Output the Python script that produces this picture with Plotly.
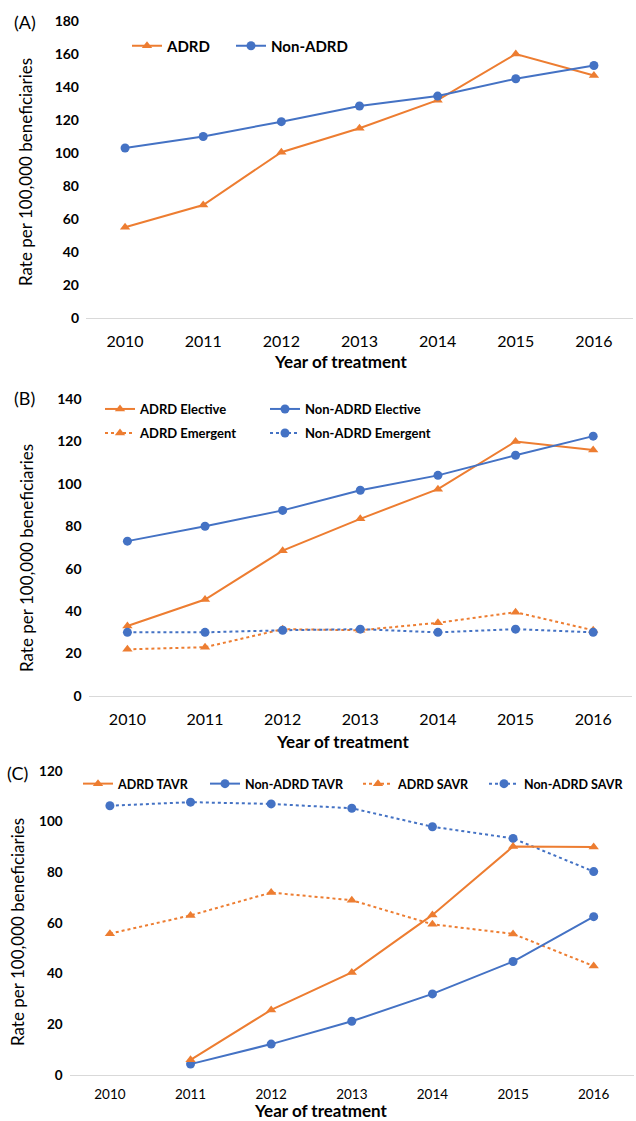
import plotly.graph_objects as go

W, H = 636, 1121
ORANGE = "#ED7D31"
BLUE = "#4472C4"
FONT = "Lato"

years = [2010, 2011, 2012, 2013, 2014, 2015, 2016]
years_tavr = [2011, 2012, 2013, 2014, 2015, 2016]

# Panel A
a_adrd = [55, 68.5, 100.5, 115, 132, 160, 147]
a_non = [103, 110, 119, 128.5, 134.5, 145, 153]

# Panel B
b_adrd_elective = [33, 45.5, 68.5, 83.5, 97.5, 120, 116]
b_non_elective = [73, 80, 87.5, 97, 104, 113.5, 122.5]
b_adrd_emergent = [22, 23, 31.5, 31, 34.5, 39.5, 31]
b_non_emergent = [30, 30, 31, 31.5, 30, 31.5, 30]

# Panel C
c_adrd_tavr = [6, 25.7, 40.5, 63.2, 90.2, 90]
c_non_tavr = [4.3, 12.2, 21.2, 32, 44.8, 62.5]
c_adrd_savr = [55.8, 63, 72, 69, 59.5, 55.7, 43]
c_non_savr = [106.3, 107.7, 107, 105.3, 98, 93.4, 80.3]


def fx(px):
    return px / W


def fy(py):
    return 1 - py / H


fig = go.Figure()

traces = [
    (a_adrd, years, "ADRD", ORANGE, "triangle-up", "solid", "x", "y", "legend"),
    (a_non, years, "Non-ADRD", BLUE, "circle", "solid", "x", "y", "legend2"),
    (b_adrd_elective, years, "ADRD Elective", ORANGE, "triangle-up", "solid", "x2", "y2", "legend3"),
    (b_non_elective, years, "Non-ADRD Elective", BLUE, "circle", "solid", "x2", "y2", "legend4"),
    (b_adrd_emergent, years, "ADRD Emergent", ORANGE, "triangle-up", "dot", "x2", "y2", "legend5"),
    (b_non_emergent, years, "Non-ADRD Emergent", BLUE, "circle", "dot", "x2", "y2", "legend6"),
    (c_non_savr, years, "Non-ADRD SAVR", BLUE, "circle", "dot", "x3", "y3", "legend10"),
    (c_adrd_savr, years, "ADRD SAVR", ORANGE, "triangle-up", "dot", "x3", "y3", "legend9"),
    (c_non_tavr, years_tavr, "Non-ADRD TAVR", BLUE, "circle", "solid", "x3", "y3", "legend8"),
    (c_adrd_tavr, years_tavr, "ADRD TAVR", ORANGE, "triangle-up", "solid", "x3", "y3", "legend7"),
]

for vals, xs, name, col, sym, dash, xa, ya, lg in traces:
    fig.add_trace(go.Scatter(
        x=xs, y=vals, name=name, mode="lines+markers",
        line=dict(color=col, width=2, dash=dash),
        marker=dict(color=col, symbol=sym, size=9),
        xaxis=xa, yaxis=ya, legend=lg, showlegend=True,
    ))

legend_specs = [
    ("legend", 167, 46, 15),
    ("legend2", 271, 46, 15),
    ("legend3", 140, 409, 13),
    ("legend4", 305, 409, 13),
    ("legend5", 140, 433, 13),
    ("legend6", 305, 433, 13),
    ("legend7", 118, 784, 12.5),
    ("legend8", 245, 784, 12.5),
    ("legend9", 398, 784, 12.5),
    ("legend10", 524, 784, 12.5),
]
layout_legends = {}
for key, tx, cy, fs in legend_specs:
    layout_legends[key] = dict(
        x=fx(tx - 40), y=fy(cy), xanchor="left", yanchor="middle",
        bgcolor="rgba(0,0,0,0)", borderwidth=0,
        font=dict(family=FONT, size=fs, color="#000000", weight="bold"),
        itemwidth=30,
    )

axis_common = dict(showgrid=False, zeroline=False, automargin=False, fixedrange=True)

def xaxis(domain, fs, standoff, anchor):
    return dict(
        domain=domain, range=[2009.5, 2016.5], tickmode="array", tickvals=years,
        ticktext=[str(y) for y in years], showline=True, linecolor="#D9D9D9", linewidth=1,
        ticks="", tickfont=dict(family=FONT, size=fs, color="#000000"),
        ticklabelstandoff=standoff, anchor=anchor, **axis_common,
    )

def yaxis(domain, rng, fs, anchor):
    return dict(
        domain=domain, range=rng, dtick=20, tick0=0, showline=False, ticks="",
        tickfont=dict(family=FONT, size=fs, color="#000000", weight="bold"),
        anchor=anchor, ticklabelstandoff=6, **axis_common,
    )

annotations = []
def ann(text, px, py, size, weight="normal", angle=0):
    annotations.append(dict(
        text=text, x=fx(px), y=fy(py), xref="paper", yref="paper",
        xanchor="center", yanchor="middle", showarrow=False, textangle=angle,
        font=dict(family=FONT, size=size, color="#000000", weight=weight),
    ))

ann("(A)", 25, 22, 18)
ann("(B)", 24, 398, 18)
ann("(C)", 17, 773, 18)
ytitle = "Rate per 100,000 beneficiaries"
ann(ytitle, 26, 172, 17, angle=-90)
ann(ytitle, 26, 558, 17, angle=-90)
ann(ytitle, 17, 932, 17, angle=-90)
ann("Year of treatment", 340, 361, 17, weight="bold")
ann("Year of treatment", 342, 741, 17, weight="bold")
ann("Year of treatment", 320, 1110, 17, weight="bold")

fig.update_layout(
    width=W, height=H, margin=dict(l=0, r=0, t=0, b=0, autoexpand=False),
    paper_bgcolor="#FFFFFF", plot_bgcolor="#FFFFFF",
    font=dict(family=FONT, color="#000000"),
    xaxis=xaxis([fx(86), fx(633)], 16, 9, "y"),
    yaxis=yaxis([fy(318), fy(21)], [0, 180], 14, "x"),
    xaxis2=xaxis([fx(88.6), fx(632)], 16, 9, "y2"),
    yaxis2=yaxis([fy(696), fy(399)], [0, 140], 14, "x2"),
    xaxis3=xaxis([fx(69.6), fx(634)], 13.5, 7, "y3"),
    yaxis3=yaxis([fy(1075), fy(771)], [0, 120], 13.5, "x3"),
    annotations=annotations,
    **layout_legends,
)

fig.write_html(
    "out.html",
    config={"displayModeBar": False},
    post_script="document.body.style.margin='0px';",
)
